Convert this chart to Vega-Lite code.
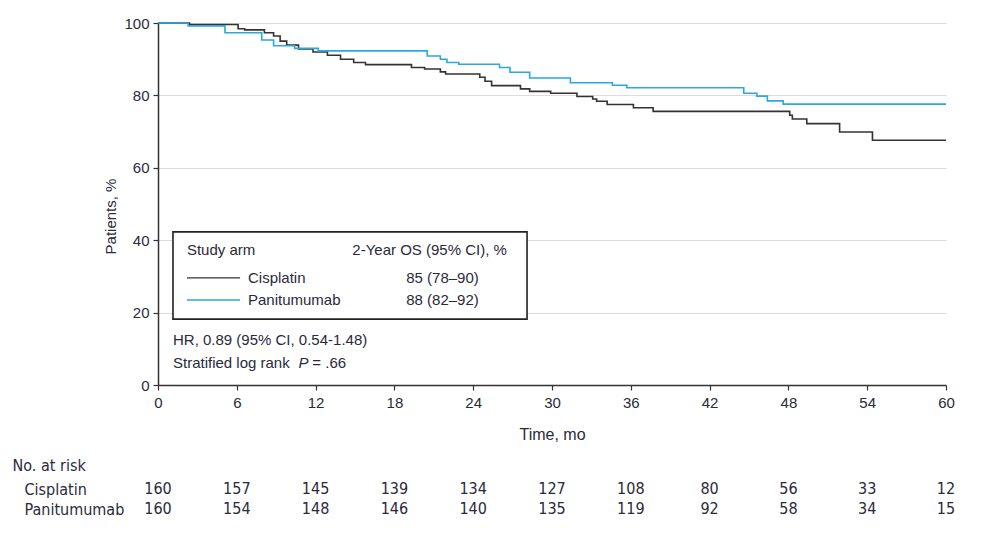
{
  "$schema": "https://vega.github.io/schema/vega-lite/v6.json",
  "padding": {"left": 12, "top": 16, "right": 20, "bottom": 10},
  "spacing": 15,
  "config": {
    "view": {"stroke": null},
    "font": "Liberation Sans",
    "axis": {"labelColor": "#2a2a3a", "titleColor": "#2a2a3a", "titleFontWeight": "normal"}
  },
  "datasets": {
    "km": [
      {"arm": "Cisplatin", "t": 0, "s": 100},
      {"arm": "Cisplatin", "t": 2.4, "s": 99.6},
      {"arm": "Cisplatin", "t": 6.1, "s": 98.4},
      {"arm": "Cisplatin", "t": 6.6, "s": 98.1},
      {"arm": "Cisplatin", "t": 8.1, "s": 97.3},
      {"arm": "Cisplatin", "t": 8.8, "s": 96.4},
      {"arm": "Cisplatin", "t": 9.3, "s": 95.0},
      {"arm": "Cisplatin", "t": 9.8, "s": 93.9},
      {"arm": "Cisplatin", "t": 10.7, "s": 92.8},
      {"arm": "Cisplatin", "t": 11.8, "s": 92.0},
      {"arm": "Cisplatin", "t": 12.9, "s": 91.1},
      {"arm": "Cisplatin", "t": 13.9, "s": 90.0},
      {"arm": "Cisplatin", "t": 14.9, "s": 89.1},
      {"arm": "Cisplatin", "t": 15.8, "s": 88.5},
      {"arm": "Cisplatin", "t": 19.3, "s": 87.7},
      {"arm": "Cisplatin", "t": 20.3, "s": 87.3},
      {"arm": "Cisplatin", "t": 21.5, "s": 86.5},
      {"arm": "Cisplatin", "t": 21.9, "s": 85.9},
      {"arm": "Cisplatin", "t": 24.5, "s": 85.0},
      {"arm": "Cisplatin", "t": 24.9, "s": 83.9},
      {"arm": "Cisplatin", "t": 25.4, "s": 82.7},
      {"arm": "Cisplatin", "t": 27.6, "s": 81.8},
      {"arm": "Cisplatin", "t": 28.3, "s": 81.1},
      {"arm": "Cisplatin", "t": 29.9, "s": 80.6},
      {"arm": "Cisplatin", "t": 31.9, "s": 79.7},
      {"arm": "Cisplatin", "t": 33.1, "s": 79.0},
      {"arm": "Cisplatin", "t": 33.4, "s": 78.4},
      {"arm": "Cisplatin", "t": 34.2, "s": 77.5},
      {"arm": "Cisplatin", "t": 36.2, "s": 76.6},
      {"arm": "Cisplatin", "t": 37.7, "s": 75.6},
      {"arm": "Cisplatin", "t": 48.1, "s": 74.5},
      {"arm": "Cisplatin", "t": 48.3, "s": 73.5},
      {"arm": "Cisplatin", "t": 49.4, "s": 72.2},
      {"arm": "Cisplatin", "t": 51.9, "s": 69.9},
      {"arm": "Cisplatin", "t": 54.4, "s": 67.6},
      {"arm": "Cisplatin", "t": 60, "s": 67.6},
      {"arm": "Panitumumab", "t": 0, "s": 100},
      {"arm": "Panitumumab", "t": 2.3, "s": 99.2},
      {"arm": "Panitumumab", "t": 5.1, "s": 97.3},
      {"arm": "Panitumumab", "t": 7.9, "s": 95.3},
      {"arm": "Panitumumab", "t": 8.8, "s": 93.7},
      {"arm": "Panitumumab", "t": 10.4, "s": 93.0},
      {"arm": "Panitumumab", "t": 12.2, "s": 92.3},
      {"arm": "Panitumumab", "t": 20.5, "s": 90.9},
      {"arm": "Panitumumab", "t": 21.5, "s": 90.0},
      {"arm": "Panitumumab", "t": 22.0, "s": 89.1},
      {"arm": "Panitumumab", "t": 22.9, "s": 88.6},
      {"arm": "Panitumumab", "t": 26.0, "s": 87.7},
      {"arm": "Panitumumab", "t": 26.8, "s": 86.4},
      {"arm": "Panitumumab", "t": 28.3, "s": 84.8},
      {"arm": "Panitumumab", "t": 31.4, "s": 83.5},
      {"arm": "Panitumumab", "t": 34.6, "s": 82.8},
      {"arm": "Panitumumab", "t": 35.7, "s": 82.1},
      {"arm": "Panitumumab", "t": 44.6, "s": 80.6},
      {"arm": "Panitumumab", "t": 45.6, "s": 79.8},
      {"arm": "Panitumumab", "t": 46.4, "s": 78.5},
      {"arm": "Panitumumab", "t": 47.6, "s": 77.6},
      {"arm": "Panitumumab", "t": 60, "s": 77.6}
    ],
    "box": [{"x1": 1.14, "x2": 28.1, "y1": 18.2, "y2": 42.3}],
    "keylines": [
      {"arm": "Cisplatin", "x1": 2.2, "x2": 6.25, "y": 29.6},
      {"arm": "Panitumumab", "x1": 2.2, "x2": 6.25, "y": 23.5}
    ],
    "notes": [
      {"label": "Study arm", "x": 2.2, "y": 37.3},
      {"label": "2-Year OS (95% CI), %", "x": 14.8, "y": 37.3},
      {"label": "Cisplatin", "x": 6.85, "y": 29.6},
      {"label": "Panitumumab", "x": 6.85, "y": 23.5},
      {"label": "85 (78–90)", "x": 18.9, "y": 29.6},
      {"label": "88 (82–92)", "x": 18.9, "y": 23.5},
      {"label": "HR, 0.89 (95% CI, 0.54-1.48)", "x": 1.14, "y": 12.4},
      {"label": "Stratified log rank", "x": 1.14, "y": 6.1},
      {"label": "= .66", "x": 11.75, "y": 6.1}
    ],
    "italic": [{"label": "P", "x": 10.7, "y": 6.1}],
    "risk": [
      {"arm": "Cisplatin", "t": 0, "n": 160},
      {"arm": "Cisplatin", "t": 6, "n": 157},
      {"arm": "Cisplatin", "t": 12, "n": 145},
      {"arm": "Cisplatin", "t": 18, "n": 139},
      {"arm": "Cisplatin", "t": 24, "n": 134},
      {"arm": "Cisplatin", "t": 30, "n": 127},
      {"arm": "Cisplatin", "t": 36, "n": 108},
      {"arm": "Cisplatin", "t": 42, "n": 80},
      {"arm": "Cisplatin", "t": 48, "n": 56},
      {"arm": "Cisplatin", "t": 54, "n": 33},
      {"arm": "Cisplatin", "t": 60, "n": 12},
      {"arm": "Panitumumab", "t": 0, "n": 160},
      {"arm": "Panitumumab", "t": 6, "n": 154},
      {"arm": "Panitumumab", "t": 12, "n": 148},
      {"arm": "Panitumumab", "t": 18, "n": 146},
      {"arm": "Panitumumab", "t": 24, "n": 140},
      {"arm": "Panitumumab", "t": 30, "n": 135},
      {"arm": "Panitumumab", "t": 36, "n": 119},
      {"arm": "Panitumumab", "t": 42, "n": 92},
      {"arm": "Panitumumab", "t": 48, "n": 58},
      {"arm": "Panitumumab", "t": 54, "n": 34},
      {"arm": "Panitumumab", "t": 60, "n": 15}
    ]
  },
  "vconcat": [
    {
      "width": 788,
      "height": 362,
      "layer": [
        {
          "data": {"name": "km"},
          "mark": {"type": "line", "interpolate": "step-after", "strokeWidth": 1.6, "clip": false},
          "encoding": {
            "x": {
              "field": "t", "type": "quantitative",
              "scale": {"domain": [0, 60], "nice": false},
              "axis": {
                "values": [0, 6, 12, 18, 24, 30, 36, 42, 48, 54, 60],
                "title": "Time, mo", "grid": false, "labelFlush": false,
                "domainColor": "#333", "domainWidth": 1.5, "tickColor": "#333", "tickWidth": 1.2, "tickSize": 5,
                "labelFontSize": 15, "labelPadding": 5, "titleFontSize": 16, "titlePadding": 16
              }
            },
            "y": {
              "field": "s", "type": "quantitative",
              "scale": {"domain": [0, 100], "nice": false},
              "axis": {
                "values": [0, 20, 40, 60, 80, 100],
                "title": "Patients, %", "grid": true, "gridColor": "#dcdcdc", "gridWidth": 1.2,
                "domainColor": "#333", "domainWidth": 1.5, "tickColor": "#333", "tickWidth": 1.2, "tickSize": 5,
                "labelFontSize": 15, "labelPadding": 4, "titleFontSize": 15,
                "titleX": -48, "titleY": 193, "titleBaseline": "middle"
              }
            },
            "color": {
              "field": "arm", "type": "nominal",
              "scale": {"domain": ["Cisplatin", "Panitumumab"], "range": ["#333333", "#2aa8e0"]},
              "legend": null
            }
          }
        },
        {
          "data": {"name": "box"},
          "mark": {"type": "rect", "fill": "white", "stroke": "#222", "strokeWidth": 1.6},
          "encoding": {
            "x": {"field": "x1", "type": "quantitative"},
            "x2": {"field": "x2"},
            "y": {"field": "y1", "type": "quantitative"},
            "y2": {"field": "y2"}
          }
        },
        {
          "data": {"name": "keylines"},
          "mark": {"type": "rule", "strokeWidth": 1.4},
          "encoding": {
            "x": {"field": "x1", "type": "quantitative"},
            "x2": {"field": "x2"},
            "y": {"field": "y", "type": "quantitative"},
            "color": {"field": "arm", "type": "nominal", "legend": null}
          }
        },
        {
          "data": {"name": "notes"},
          "mark": {"type": "text", "align": "left", "baseline": "middle", "fontSize": 15, "color": "#2a2a3a"},
          "encoding": {
            "x": {"field": "x", "type": "quantitative"},
            "y": {"field": "y", "type": "quantitative"},
            "text": {"field": "label"}
          }
        },
        {
          "data": {"name": "italic"},
          "mark": {"type": "text", "align": "left", "baseline": "middle", "fontSize": 15, "fontStyle": "italic", "color": "#2a2a3a"},
          "encoding": {
            "x": {"field": "x", "type": "quantitative"},
            "y": {"field": "y", "type": "quantitative"},
            "text": {"field": "label"}
          }
        }
      ]
    },
    {
      "width": 788,
      "height": 40,
      "data": {"name": "risk"},
      "mark": {"type": "text", "align": "center", "baseline": "middle", "font": "DejaVu Sans Condensed, Liberation Sans", "fontSize": 16, "color": "#2a2a3a"},
      "encoding": {
        "x": {"field": "t", "type": "quantitative", "scale": {"domain": [0, 60], "nice": false}, "axis": null},
        "y": {
          "field": "arm", "type": "nominal",
          "scale": {"domain": ["Cisplatin", "Panitumumab"], "paddingInner": 0, "paddingOuter": 0},
          "axis": {
            "title": "No. at risk", "titleAngle": 0, "titleAlign": "left", "titleX": -146, "titleY": -14,
            "titleBaseline": "middle", "titleFont": "DejaVu Sans Condensed, Liberation Sans", "titleFontSize": 16,
            "labelAlign": "left", "labelPadding": 134, "labelFont": "DejaVu Sans Condensed, Liberation Sans", "labelFontSize": 16,
            "ticks": false, "domain": false
          }
        },
        "text": {"field": "n", "type": "quantitative"}
      }
    }
  ]
}
